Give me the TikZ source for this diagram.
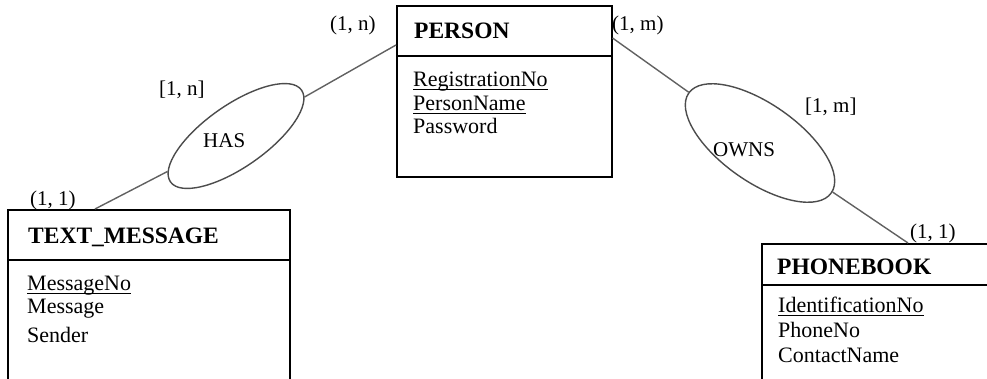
\documentclass[tikz,border=0pt]{standalone}
\usepackage{fontspec}
\setmainfont{Liberation Serif}
\usetikzlibrary{shapes.geometric}
\begin{document}
\begin{tikzpicture}[x=1pt,y=-1pt,
  entitybox/.style={draw=black, line width=1.5pt, anchor=north west, inner sep=0pt},
  divider/.style={draw=black, line width=1.5pt},
  relship/.style={draw=black!70, line width=1.4pt, ellipse, fill=white, inner sep=0pt},
  conn/.style={draw=black!62, line width=1.4pt},
  head/.style={anchor=base west, inner sep=0pt, font=\fontsize{23.5}{23.5}\selectfont\bfseries},
  attr/.style={anchor=base west, inner sep=0pt, font=\fontsize{22}{22}\selectfont},
  lbl/.style={anchor=base west, inner sep=0pt, font=\fontsize{21}{21}\selectfont},
  keyline/.style={draw=black, line width=0.9pt}
]
\useasboundingbox (0,0) rectangle (987,378);
\clip (0,0) rectangle (987,378);

% entity boxes
\node[entitybox, minimum width=215pt, minimum height=171pt] (person) at (396,5) {};
\node[entitybox, minimum width=282pt, minimum height=200pt] (tm) at (7,209) {};
\node[entitybox, minimum width=260pt, minimum height=170pt] (pb) at (761,243) {};

\draw[divider] ([yshift=-51pt]person.north west) -- ([yshift=-51pt]person.north east);
\draw[divider] ([yshift=-51pt]tm.north west) -- ([yshift=-51pt]tm.north east);
\draw[divider] ([yshift=-42pt]pb.north west) -- ([yshift=-42pt]pb.north east);

% connector end points
\coordinate (tmA) at ([xshift=88pt]tm.north west);
\coordinate (personL) at ([yshift=-40pt]person.north west);
\coordinate (personR) at ([yshift=-33pt]person.north east);
\coordinate (pbA) at ([xshift=147pt]pb.north west);

% relationships
\node[relship, rotate=35, minimum width=160pt, minimum height=62pt] (has) at (236,136) {};
\node[relship, rotate=-35, minimum width=174pt, minimum height=78pt] (owns) at (760,143) {};

\draw[conn] (tmA) -- (has);
\draw[conn] (has) -- (personL);
\draw[conn] (personR) -- (owns);
\draw[conn] (owns) -- (pbA);

\node[lbl] (hast) at (203,147) {HAS};
\node[lbl] (ownst) at (713,156) {OWNS};

% PERSON
\node[head] (personh) at (414,38) {PERSON};
\node[attr] (p1) at (413,86) {RegistrationNo};
\node[attr] (p2) at (413,110) {PersonName};
\node[attr] (p3) at (413,133) {Password};
\draw[keyline] ([yshift=-3pt]p1.base west) -- ([yshift=-3pt]p1.base east);
\draw[keyline] ([yshift=-3pt]p2.base west) -- ([yshift=-3pt]p2.base east);

% TEXT_MESSAGE
\node[head] (tmh) at (28,243) {TEXT\_MESSAGE};
\node[attr] (t1) at (27,290) {MessageNo};
\node[attr] (t2) at (27,313) {Message};
\node[attr] (t3) at (27,342) {Sender};
\draw[keyline] ([yshift=-3pt]t1.base west) -- ([yshift=-3pt]t1.base east);

% PHONEBOOK
\node[head] (pbh) at (777,274) {PHONEBOOK};
\node[attr] (b1) at (778,312) {IdentificationNo};
\node[attr] (b2) at (778,337) {PhoneNo};
\node[attr] (b3) at (778,362) {ContactName};
\draw[keyline] ([yshift=-3pt]b1.base west) -- ([yshift=-3pt]b1.base east);

% cardinalities
\node[lbl] (c1) at (330,30) {(1, n)};
\node[lbl] (c2) at (612,30) {(1, m)};
\node[lbl] (c3) at (159,95) {[1, n]};
\node[lbl] (c4) at (805,112) {[1, m]};
\node[lbl] (c5) at (30,205) {(1, 1)};
\node[lbl] (c6) at (910,238) {(1, 1)};
\end{tikzpicture}
\end{document}
